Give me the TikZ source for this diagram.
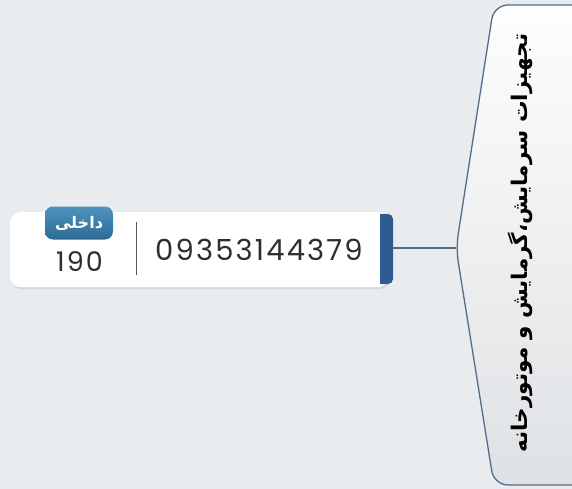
\documentclass[tikz,border=0pt]{standalone}
\usepackage{fontspec}
\TeXXeTstate=1
\newfontfamily\arabicfont[Script=Arabic]{DejaVu Sans}
\newfontfamily\numfont[LetterSpace=7.5]{Poppins}
\usetikzlibrary{shadows}
\definecolor{bg}{HTML}{E9ECEF}
\definecolor{edge}{HTML}{4F6E8C}
\definecolor{barblue}{HTML}{2F5B93}
\definecolor{badgetop}{HTML}{4E93BE}
\definecolor{badgebot}{HTML}{2D6B94}
\definecolor{numcol}{HTML}{2E2E2E}
\tikzset{
  cardbox/.style={fill=white, rounded corners=10pt, drop shadow={shadow xshift=1pt, shadow yshift=-2pt, fill=black!30, opacity=0.35}},
  badgebox/.style={rounded corners=8pt, top color=badgetop, bottom color=badgebot, text=white, font=\arabicfont\bfseries\fontsize{16}{16}\selectfont},
  numtext/.style={font=\numfont\fontsize{29}{29}\selectfont, text=numcol, inner sep=0pt},
  conn/.style={draw=edge, line width=1.4pt},
}
\begin{document}
\begin{tikzpicture}[x=1pt,y=-1pt]
\useasboundingbox (0,0) rectangle (572,489);
\clip (0,0) rectangle (572,489);
\fill[bg] (0,0) rectangle (572,489);
% hexagon-like main topic
\coordinate (hexpt) at (456,248);
\draw[edge, line width=1.3pt, rounded corners=14pt, top color=white!92!bg, bottom color=bg!90!gray]
  (600,5) -- (494,5) -- (hexpt) -- (494,485) -- (600,485);
\node[rotate=90, font=\arabicfont\bfseries\fontsize{21.5}{21.5}\selectfont, text=black] (topic) at (520,243)
  {\beginR تجهیزات سرمایش،گرمایش و موتورخانه\endR};
% card
\node[cardbox, minimum width=378pt, minimum height=75pt, inner sep=0pt, anchor=north west] (card) at (10,212) {};
\fill[barblue, rounded corners=5pt] (376,214) rectangle (393,284);
\fill[white] (374,213) rectangle (380,286);
\coordinate (barR) at (393,248);
\draw[conn] (barR) -- (hexpt);
% badge
\node[badgebox, minimum width=68pt, minimum height=33pt, inner sep=0pt] (badge) at (79,223) {\beginR داخلی\endR};
% separator
\coordinate (s1) at (136,222);
\coordinate (s2) at (136,275);
\draw[numcol!80, line width=0.8pt] (s1) -- (s2);
\node[numtext, anchor=west] (phone) at (155,250) {09353144379};
\node[numtext, anchor=west, font=\numfont\fontsize{27}{27}\selectfont] (ext) at (56,262) {190};
\end{tikzpicture}
\end{document}
